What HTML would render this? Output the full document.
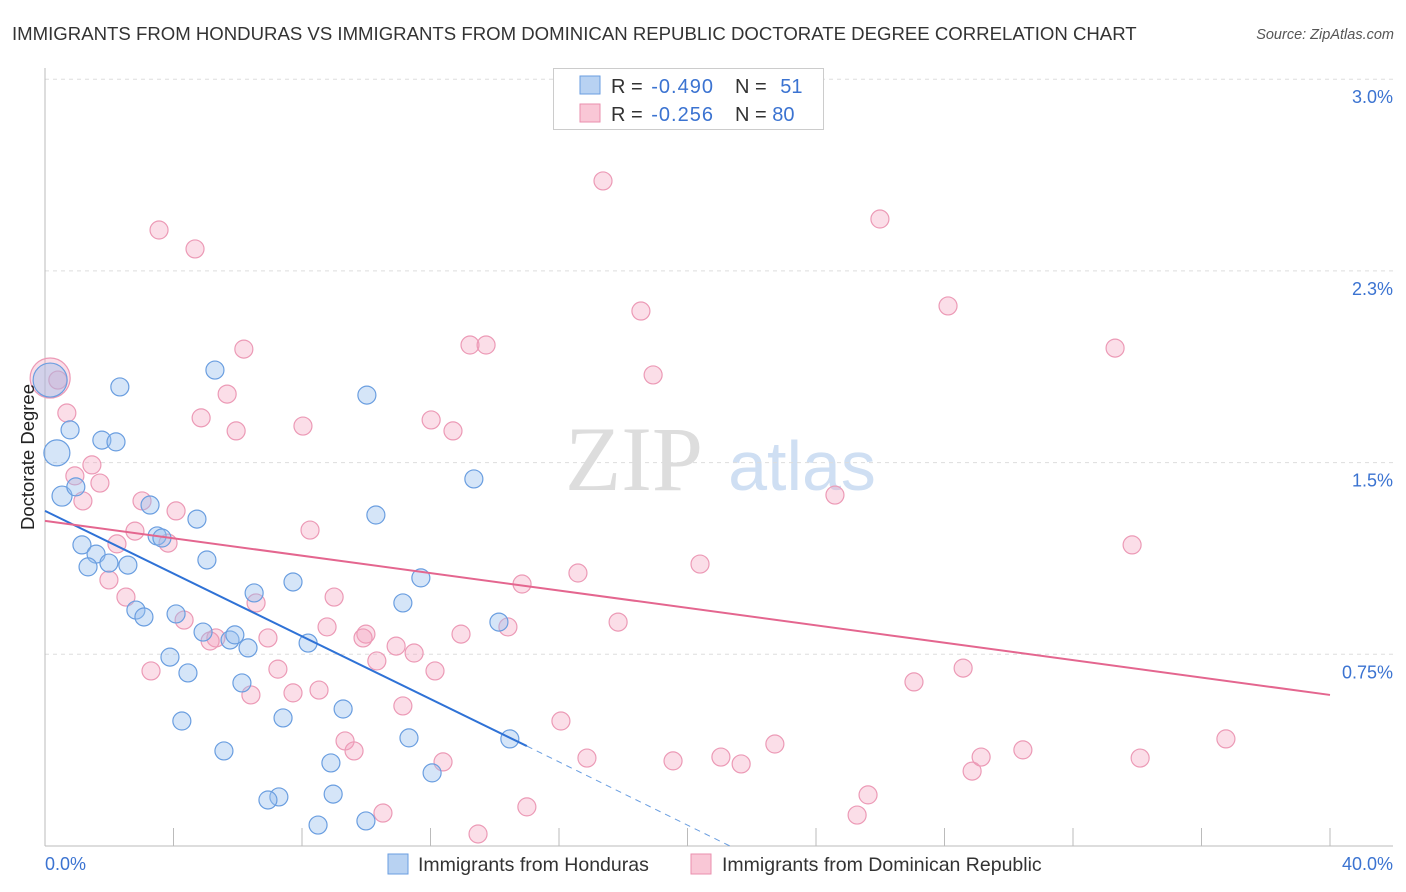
<!DOCTYPE html>
<html><head><meta charset="utf-8"><style>
body{margin:0;background:#fff;font-family:"Liberation Sans",sans-serif;}
svg{display:block}
</style></head><body>
<svg width="1406" height="892" id="chart">
<text x="12" y="40" font-size="18.6" fill="#333">IMMIGRANTS FROM HONDURAS VS IMMIGRANTS FROM DOMINICAN REPUBLIC DOCTORATE DEGREE CORRELATION CHART</text>
<text x="1394" y="39" font-size="14.5" fill="#555" font-style="italic" text-anchor="end">Source: ZipAtlas.com</text>
<g>
<text x="634" y="490" font-size="92" fill="#ddd" font-family="Liberation Serif" text-anchor="middle">ZIP</text>
<text x="802" y="490" font-size="70" fill="#cfdff3" text-anchor="middle">atlas</text>
</g>
<g id="grid"></g>
<g id="axes"></g>
<g id="marks"></g>
<text transform="translate(34,457) rotate(-90)" font-size="18.5" fill="#222" text-anchor="middle">Doctorate Degree</text>
<g>
<rect x="553.5" y="68.5" width="270" height="61" fill="#fff" stroke="#ccc"/>
<rect x="580" y="76" width="20" height="18" fill="#b8d2f2" stroke="#6a9ee0"/>
<rect x="580" y="104" width="20" height="18" fill="#f9c7d6" stroke="#ea8fae"/>
<text x="611" y="93" font-size="20" fill="#333">R = <tspan fill="#3b73d1" dx="3" letter-spacing="1">-0.490</tspan></text>
<text x="735" y="93" font-size="20" fill="#333">N = <tspan fill="#3b73d1" dx="8">51</tspan></text>
<text x="611" y="121" font-size="20" fill="#333">R = <tspan fill="#3b73d1" dx="3" letter-spacing="1">-0.256</tspan></text>
<text x="735" y="121" font-size="20" fill="#333">N = <tspan fill="#3b73d1">80</tspan></text>
</g>
<g>
<rect x="388" y="854" width="20" height="20" fill="#b8d2f2" stroke="#6a9ee0"/>
<text x="418" y="871" font-size="19.5" fill="#333">Immigrants from Honduras</text>
<rect x="691" y="854" width="20" height="20" fill="#f9c7d6" stroke="#ea8fae"/>
<text x="722" y="871" font-size="19.5" fill="#333">Immigrants from Dominican Republic</text>
</g>
</svg>
<script>
const yTicks=[0.75,1.5,2.25,3.0];
const yTickLabels=["0.75%","1.5%","2.3%","3.0%"];
const xTickCount=10;
const xLabels=["0.0%","40.0%"];
const blueX=[0.16,0.78,0.37,2.33,5.29,1.77,2.21,0.53,0.96,3.27,4.73,1.15,1.59,1.34,1.99,2.58,3.49,3.64,5.04,2.83,3.08,4.08,4.92,5.76,5.91,6.32,6.51,7.72,8.19,3.89,4.45,6.13,4.26,5.57,7.41,9.28,10.02,10.30,13.35,11.70,11.14,14.13,11.33,14.47,8.90,8.97,7.28,6.94,12.05,8.50,9.99];
const blueY=[1.823,1.628,1.538,1.796,1.862,1.588,1.581,1.369,1.405,1.334,1.279,1.178,1.142,1.092,1.107,1.099,1.213,1.205,1.119,0.923,0.896,0.908,0.837,0.806,0.826,0.775,0.990,1.033,0.794,0.739,0.677,0.638,0.489,0.372,0.501,0.536,1.764,1.295,1.436,1.049,0.951,0.876,0.423,0.419,0.325,0.203,0.192,0.180,0.286,0.082,0.098];
const blueR=[17,9,13,9,9,9,9,10,9,9,9,9,9,9,9,9,9,9,9,9,9,9,9,9,9,9,9,9,9,9,9,9,9,9,9,9,9,9,9,9,9,9,9,9,9,9,9,9,9,9,9];
const pinkX=[0.16,0.40,3.55,4.67,6.19,5.67,4.86,5.95,8.03,0.68,1.46,0.93,1.71,1.18,3.02,4.08,2.80,2.24,3.83,1.99,2.52,4.33,5.32,5.14,6.57,6.94,8.25,9.00,8.78,7.25,7.72,8.53,6.41,3.30,9.99,9.90,10.33,10.93,11.49,12.14,11.14,9.34,9.62,12.39,10.52,13.48,15.00,12.95,14.41,14.85,13.23,13.73,12.02,12.70,17.37,18.55,18.93,16.59,17.84,20.39,16.06,16.87,19.55,21.04,21.67,22.72,24.59,25.99,28.11,33.31,33.84,27.05,28.58,25.62,25.28,28.86,29.14,30.44,34.09,36.76];
const pinkY=[1.831,1.823,2.410,2.336,1.944,1.768,1.675,1.624,1.643,1.694,1.491,1.448,1.420,1.350,1.350,1.311,1.232,1.182,1.185,1.041,0.974,0.884,0.814,0.802,0.951,0.814,1.236,0.974,0.857,0.692,0.599,0.610,0.591,0.685,0.829,0.814,0.724,0.782,0.755,0.685,0.548,0.411,0.372,0.329,0.129,0.047,0.153,0.829,0.857,1.025,1.960,1.960,1.667,1.624,2.602,2.093,1.843,1.068,0.876,1.103,0.489,0.344,0.333,0.348,0.321,0.399,1.373,2.453,2.113,1.948,1.178,0.642,0.696,0.200,0.121,0.293,0.348,0.376,0.344,0.419];
const blueTrend=[[0,1.311],[15,0.391]];
const blueTrendDash=[[15,0.391],[21.32,0]];
const pinkTrend=[[0,1.272],[40,0.591]];
const NS="http://www.w3.org/2000/svg";
const X=v=>45+v/40*1285;
const Y=v=>846-v*255.6;
function mk(tag,attrs,parent){const e=document.createElementNS(NS,tag);for(const k in attrs)e.setAttribute(k,attrs[k]);parent.appendChild(e);return e;}
const grid=document.getElementById('grid'),axes=document.getElementById('axes'),marks=document.getElementById('marks');
yTicks.forEach((t,i)=>{
 const l=mk('line',{x1:45,x2:1393,y1:Y(t),y2:Y(t),stroke:'#ddd','stroke-dasharray':'4,4'},grid);
 
 
 const tx=mk('text',{x:1393,y:Y(t)+24,'font-size':18,fill:'#3b73d1','text-anchor':'end'},axes);
 tx.textContent=yTickLabels[i];
 
 
});
const ya=mk('line',{x1:45,x2:45,y1:68,y2:846,stroke:'#bbb'},axes);


const xa=mk('line',{x1:45,x2:1393,y1:846,y2:846,stroke:'#bbb'},axes);


for(let i=0;i<=xTickCount;i++){
 const v=i*40/xTickCount;
 const t=mk('line',{x1:X(v),x2:X(v),y1:828,y2:846,stroke:'#bbb'},axes);
 
 
}
const xl0=mk('text',{x:45,y:870,'font-size':18,fill:'#3b73d1'},axes);
xl0.textContent=xLabels[0];


const xl1=mk('text',{x:1393,y:870,'font-size':18,fill:'#3b73d1','text-anchor':'end'},axes);
xl1.textContent=xLabels[1];


pinkX.forEach((v,i)=>{
 const c=mk('circle',{cx:X(v),cy:Y(pinkY[i]),r:i===0?20:9,fill:'rgba(244,160,188,0.35)',stroke:'#ec9ab6','stroke-width':1.2},marks);
 
 
});
blueX.forEach((v,i)=>{
 const c=mk('circle',{cx:X(v),cy:Y(blueY[i]),r:blueR[i],fill:'rgba(150,190,238,0.4)',stroke:'#6a9ee0','stroke-width':1.2},marks);
 
 
});
const bt=mk('line',{x1:X(blueTrend[0][0]),y1:Y(blueTrend[0][1]),x2:X(blueTrend[1][0]),y2:Y(blueTrend[1][1]),stroke:'#2f72d6','stroke-width':2},marks);


const bd=mk('line',{x1:X(blueTrendDash[0][0]),y1:Y(blueTrendDash[0][1]),x2:X(blueTrendDash[1][0]),y2:Y(blueTrendDash[1][1]),stroke:'#6a9ee0','stroke-width':1,'stroke-dasharray':'6,5'},marks);


const pt=mk('line',{x1:X(pinkTrend[0][0]),y1:Y(pinkTrend[0][1]),x2:X(pinkTrend[1][0]),y2:Y(pinkTrend[1][1]),stroke:'#e4668f','stroke-width':2},marks);


</script>
</body></html>
